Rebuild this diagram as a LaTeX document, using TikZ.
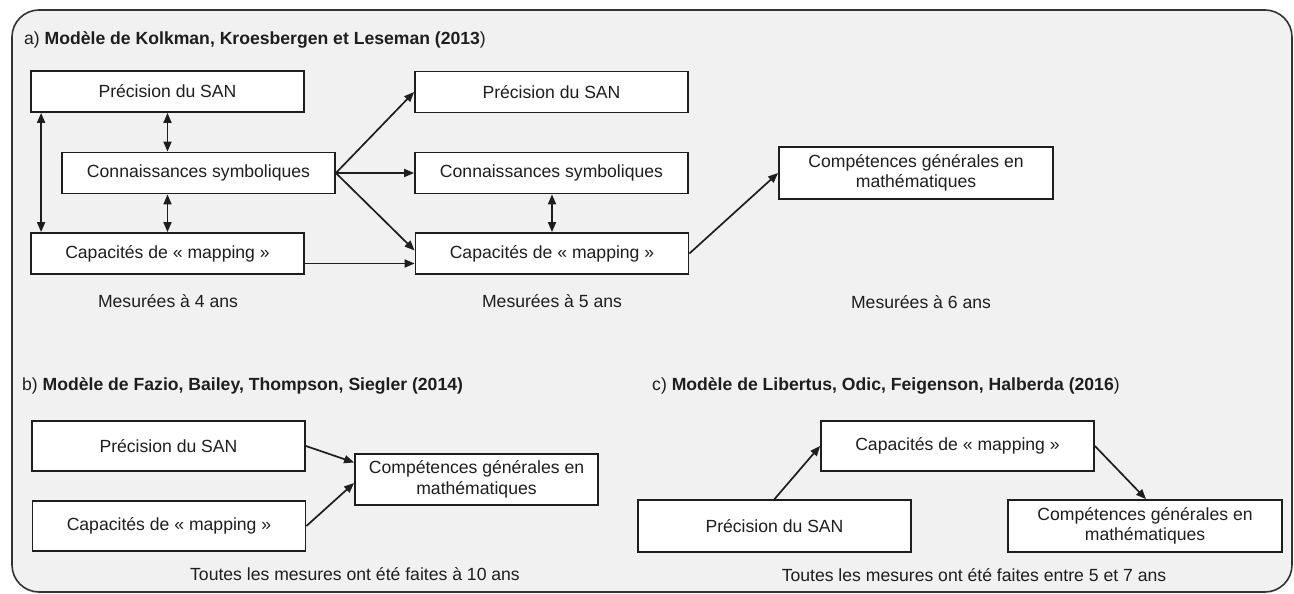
\documentclass[tikz,border=0pt]{standalone}
\usepackage{fontspec}
\setmainfont{Liberation Sans}
\usetikzlibrary{arrows.meta,calc}
\definecolor{bg}{HTML}{F1F1F1}
\definecolor{ink}{HTML}{1E1E1E}
\definecolor{frame}{HTML}{333333}
\begin{document}
\begin{tikzpicture}[x=1pt,y=-1pt,
  font=\fontsize{17.6}{20.5}\selectfont,
  every node/.style={text=ink},
  box/.style={draw=ink,line width=1.8pt,fill=white,minimum width=273pt,minimum height=41pt,inner sep=0pt,align=center},
  tallbox/.style={box,minimum height=51pt},
  arr/.style={draw=ink,line width=1.7pt,-{Triangle[length=10pt,width=8pt]}},
  darr/.style={draw=ink,line width=1.7pt,{Triangle[length=10pt,width=8pt]}-{Triangle[length=10pt,width=8pt]}},
  lbl/.style={inner sep=0pt},
  ttl/.style={anchor=base west,inner sep=0pt}]
\useasboundingbox (0,0) rectangle (1294,594);
\fill[white] (0,0) rectangle (1294,594);
\draw[frame,fill=bg,line width=1.6pt,rounded corners=27pt] (12,10) rectangle (1292,592);

% a)
\node[ttl] (ta) at (24,44.3) {a) \textbf{Modèle de Kolkman, Kroesbergen et Leseman (2013}{)}};
\node[box] (p1) at (167.5,91.5) {Précision du SAN};
\node[box] (c1) at (198.5,173) {Connaissances symboliques};
\node[box] (m1) at (167.5,253.5) {Capacités de « mapping »};
\node[box] (p2) at (551.5,92) {Précision du SAN};
\node[box] (c2) at (551.5,173) {Connaissances symboliques};
\node[box] (m2) at (552,253.5) {Capacités de « mapping »};
\node[box,minimum width=274pt,minimum height=52pt] (g3) at (916,173) {Compétences générales en\\mathématiques};
\node[lbl] (l4) at (168,301) {Mesurées à 4 ans};
\node[lbl] (l5) at (552,301) {Mesurées à 5 ans};
\node[lbl] (l6) at (921,302) {Mesurées à 6 ans};

\draw[darr] ([xshift=11pt]p1.south west) -- ([xshift=11pt]m1.north west);
\draw[darr] (p1.south) -- (p1.south |- c1.north);
\draw[darr] (m1.north |- c1.south) -- (m1.north);
\draw[arr] (c1.east) -- (p2.west);
\draw[arr] (c1.east) -- (c2.west);
\draw[arr] (c1.east) -- ([yshift=3pt]m2.west);
\draw[arr] ([yshift=-10pt]m1.east) -- ([yshift=-10pt]m2.west);
\draw[darr] (c2.south -| m2.north) -- (m2.north);
\draw[arr] (m2.east) -- (g3.west);

% b)
\node[ttl] (tb) at (22,390) {b) \textbf{Modèle de Fazio, Bailey, Thompson, Siegler (2014)}};
\node[tallbox,minimum height=50pt] (pb) at (168.5,446) {Précision du SAN};
\node[tallbox,minimum height=50pt] (mb) at (169,526) {Capacités de « mapping »};
\node[tallbox,minimum width=243pt] (gb) at (476.5,479.5) {Compétences générales en\\mathématiques};
\node[lbl] (lb) at (355,574) {Toutes les mesures ont été faites à 10 ans};
\draw[arr] (pb.east) -- ([yshift=17pt]gb.west);
\draw[arr] (mb.east) -- ([yshift=-3.5pt]gb.west);

% c)
\node[ttl] (tc) at (652,390) {c) \textbf{Modèle de Libertus, Odic, Feigenson, Halberda (2016}{)}};
\node[tallbox,minimum height=52pt] (pc) at (774.5,526) {Précision du SAN};
\node[tallbox,minimum height=50pt] (mc) at (957.5,446) {Capacités de « mapping »};
\node[tallbox,minimum width=274pt,minimum height=52pt] (gc) at (1145,526) {Compétences générales en\\mathématiques};
\node[lbl] (lc) at (974,575) {Toutes les mesures ont été faites entre 5 et 7 ans};
\draw[arr] (pc.north) -- (mc.west);
\draw[arr] (mc.east) -- ([xshift=1pt]gc.north);
\end{tikzpicture}
\end{document}
